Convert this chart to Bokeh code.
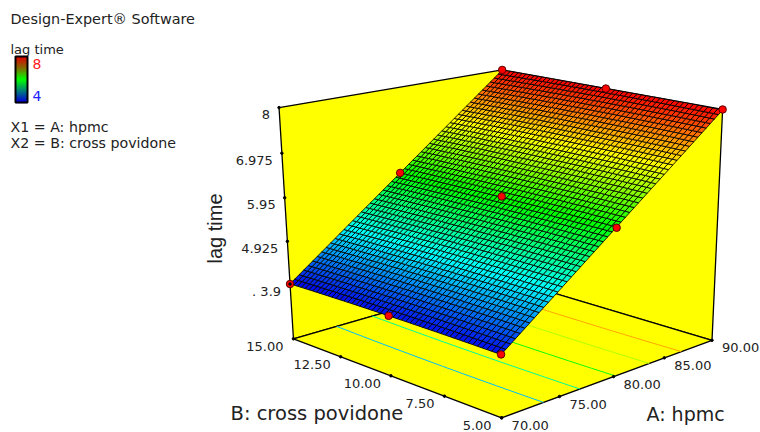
import numpy as np
from bokeh.plotting import figure
from bokeh.core.properties import value
from bokeh.embed import file_html
from bokeh.resources import INLINE

# ---- data ----
hpmc_design = [70, 70, 70, 80, 80, 80, 90, 90, 90]
povidone_design = [15, 10, 5, 15, 10, 5, 15, 10, 5]
lag_time_design = [3.9, 3.95, 3.95, 5.95, 6.0, 5.95, 8.0, 8.0, 8.0]
hpmc_ticks = [70, 75, 80, 85, 90]
hpmc_labels = ["70.00", "75.00", "80.00", "85.00", "90.00"]
povidone_ticks = [15, 12.5, 10, 7.5, 5]
povidone_labels = ["15.00", "12.50", "10.00", "7.50", "5.00"]
lag_ticks = [8, 6.975, 5.95, 4.925, 3.9]
lag_labels = ["8", "6.975", "5.95", "4.925", ". 3.9"]
contour_levels = [4.67, 5.33, 6.0, 6.67, 7.33]
info_lines = ["X1 = A: hpmc", "X2 = B: cross povidone"]
FLOOR_Z = 2.55
A_LIM = (70, 90)
B_LIM = (5, 15)
Z_TOP = 8.0
GRID = 50

# camera: projective map fitted to the box corners seen on the page
calib_world = np.array([
    [70, 15, FLOOR_Z], [70, 15, 8], [70, 5, FLOOR_Z],
    [90, 5, FLOOR_Z], [90, 5, 8], [90, 15, FLOOR_Z], [90, 15, 8],
    [70, 15, 3.9], [70, 5, 3.95], [80, 15, 5.95], [80, 5, 5.95],
    [70, 10, 3.95], [90, 10, 8], [80, 10, 6.0],
])
calib_page = np.array([
    [293, 339], [279, 109], [501, 419],
    [710, 339], [723, 109], [505, 279], [501, 69],
    [289, 281], [501, 353], [399, 171], [617, 227],
    [388, 315], [605, 88], [501, 197],
], float)
def norm(w):
    w = np.asarray(w, float)
    return np.stack([(w[..., 0] - 80) / 10, (w[..., 1] - 10) / 5, (w[..., 2] - 5.3) / 2.7], -1)
W = norm(calib_world)
rows, rhs = [], []
for (a, b, c), (x, y) in zip(W, calib_page):
    rows.append([a, b, c, 1, 0, 0, 0, 0, -x*a, -x*b, -x*c]); rhs.append(x)
    rows.append([0, 0, 0, 0, a, b, c, 1, -y*a, -y*b, -y*c]); rhs.append(y)
P = np.linalg.lstsq(np.array(rows), np.array(rhs), rcond=None)[0]
P = np.append(P, 1).reshape(3, 4)
def proj(a, b, z):
    q = norm(np.stack(np.broadcast_arrays(a, b, z), -1))
    h = q @ P[:, :3].T + P[:, 3]
    return h[..., 0] / h[..., 2], h[..., 1] / h[..., 2]

# response surface: quadratic model through the design points
def basis(a, b):
    a = (np.asarray(a, float) - 80) / 10; b = (np.asarray(b, float) - 10) / 5
    return np.stack([np.ones_like(a), a, b, a*b, a*a, b*b], -1)
coef = np.linalg.lstsq(basis(hpmc_design, povidone_design), np.array(lag_time_design), rcond=None)[0]
model = lambda a, b: np.minimum(basis(a, b) @ coef, 8.0)

def rainbow(t):
    stops = [0, .25, .5, .75, 1]
    r = np.interp(t, stops, [0, 0, 0, 255, 255])
    g = np.interp(t, stops, [0, 255, 255, 255, 0])
    b = np.interp(t, stops, [235, 255, 0, 0, 0])
    return "#%02x%02x%02x" % (int(r), int(g), int(b))

p = figure(width=760, height=432, x_range=(0, 760), y_range=(432, 0), toolbar_location=None,
           output_backend="svg", min_border=0, outline_line_color=None, background_fill_color="white",
           border_fill_color="white")
p.axis.visible = False
p.grid.visible = False

# walls and floor
def wall(aa, bb, zz):
    xs, ys = proj(np.array(aa, float), np.array(bb, float), np.array(zz, float))
    p.patch(xs.tolist(), ys.tolist(), fill_color="#ffff00", line_color="black", line_width=1.3)
a0, a1 = A_LIM; b0, b1 = B_LIM
wall([a0, a1, a1, a0], [b1, b1, b1, b1], [Z_TOP, Z_TOP, FLOOR_Z, FLOOR_Z])
wall([a1, a1, a1, a1], [b1, b0, b0, b1], [Z_TOP, Z_TOP, FLOOR_Z, FLOOR_Z])
wall([a0, a1, a1, a0], [b0, b0, b1, b1], [FLOOR_Z]*4)

# contour lines on the floor
bb_fine = np.linspace(b0, b1, 21)
aa_fine = np.linspace(a0, a1, 401)
for lev in contour_levels:
    aa = [float(np.interp(lev, model(aa_fine, np.full_like(aa_fine, b)), aa_fine)) for b in bb_fine]
    xs, ys = proj(np.array(aa), bb_fine, np.full_like(bb_fine, FLOOR_Z))
    p.line(xs.tolist(), ys.tolist(), line_color=rainbow((lev - 3.9) / 4.1), line_width=1)

# mesh
ga = np.linspace(a0, a1, GRID + 1)
gb = np.linspace(b0, b1, GRID + 1)
AA, BB = np.meshgrid(ga, gb, indexing="ij")
ZZ = model(AA, BB)
X, Y = proj(AA, BB, ZZ)
qx, qy, qc = [], [], []
for i in range(GRID):
    for j in range(GRID):
        qx.append([X[i, j], X[i+1, j], X[i+1, j+1], X[i, j+1]])
        qy.append([Y[i, j], Y[i+1, j], Y[i+1, j+1], Y[i, j+1]])
        qc.append(rainbow((ZZ[i:i+2, j:j+2].mean() - 3.9) / 4.1))
p.patches(qx, qy, fill_color=qc, line_color="black", line_width=0.85, line_alpha=1)

# design points
dx, dy = proj(np.array(hpmc_design, float), np.array(povidone_design, float), np.array(lag_time_design))
p.scatter(dx.tolist(), dy.tolist(), size=7.5, fill_color="#ff0000", line_color="#5a0000", line_width=1)

# ticks
tfont = value("DejaVu Sans")
tx, ty = proj(np.full(5, a0), np.full(5, b1), np.array(lag_ticks))
p.scatter(tx.tolist(), ty.tolist(), size=2.5, color="black")
p.text((tx - 9).tolist(), (ty + 7).tolist(), text=lag_labels, text_font=tfont, text_font_size="13px",
       text_align="right", text_baseline="middle", text_color="#222222")
bx, by = proj(np.full(5, a0), np.array(povidone_ticks, float), np.full(5, FLOOR_Z))
p.scatter(bx.tolist(), by.tolist(), size=2.5, color="black")
p.text((bx - 10).tolist(), (by + 7.5).tolist(), text=povidone_labels, text_font=tfont, text_font_size="13px",
       text_align="right", text_baseline="middle", text_color="#222222")
ax, ay = proj(np.array(hpmc_ticks, float), np.full(5, b0), np.full(5, FLOOR_Z))
p.scatter(ax.tolist(), ay.tolist(), size=2.5, color="black")
p.text((ax + 10).tolist(), (ay + 7.5).tolist(), text=hpmc_labels, text_font=tfont, text_font_size="13px",
       text_align="left", text_baseline="middle", text_color="#222222")

# axis titles
p.text([230], [413], text=["B: cross povidone"], text_font=tfont, text_font_size="19.5px",
       text_baseline="middle", text_color="#222222")
p.text([646], [413], text=["A: hpmc"], text_font=tfont, text_font_size="19px",
       text_baseline="middle", text_color="#222222")
p.text([214.5], [228], text=["lag time"], text_font=value("Liberation Sans"), text_font_size="20px",
       text_align="center", text_baseline="middle", angle=np.pi/2, text_color="#222222")

# side notes
p.text([10], [18], text=["Design-Expert® Software"], text_font=tfont, text_font_size="14.4px",
       text_baseline="middle", text_color="#222222")
p.text([10], [49], text=["lag time"], text_font=tfont, text_font_size="13px",
       text_baseline="middle", text_color="#222222")
p.text([10, 10], [126, 142], text=info_lines, text_font=tfont, text_font_size="14.2px",
       text_baseline="middle", text_color="#222222")
p.text([32], [63], text=["8"], text_font=tfont, text_font_size="14px", text_baseline="middle", text_color="#ff2020")
p.text([32], [95], text=["4"], text_font=tfont, text_font_size="14px", text_baseline="middle", text_color="#2020ff")

# legend bar
n = 46
lt = [56 + i for i in range(n)]
def legcol(t):
    stops = [0, .25, .5, .75, 1]
    return "#%02x%02x%02x" % (int(np.interp(t, stops, [0, 0, 0, 130, 225])),
                              int(np.interp(t, stops, [0, 130, 255, 110, 0])),
                              int(np.interp(t, stops, [220, 120, 0, 0, 0])))
cols = [legcol(1 - i / (n - 1)) for i in range(n)]
p.quad(left=15, right=27, top=lt, bottom=[v + 1.6 for v in lt], fill_color=cols, line_color=cols, line_width=0.3)
p.quad(left=[15], right=[27], top=[56], bottom=[102], fill_color=None, line_color="black", line_width=2)

open("out.html", "w").write(file_html(p, INLINE))
